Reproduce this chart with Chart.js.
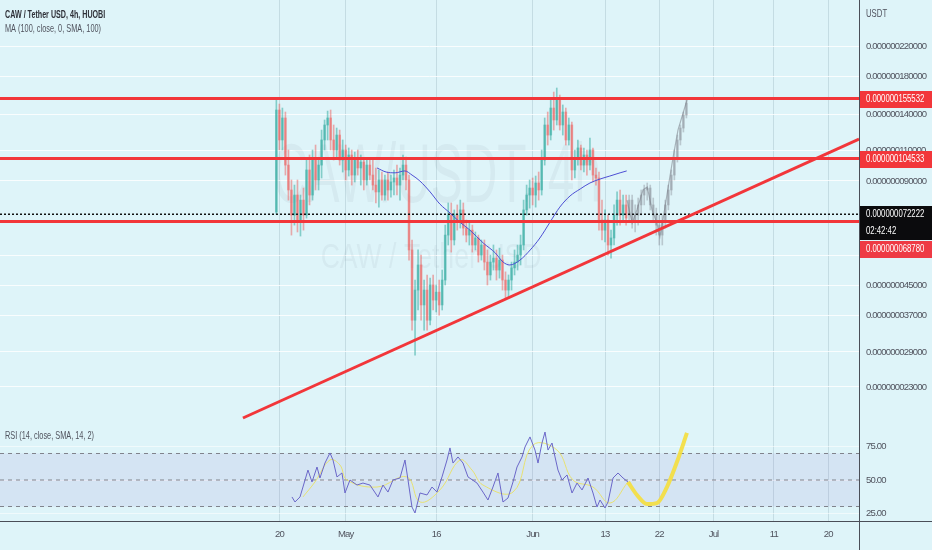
<!DOCTYPE html>
<html><head><meta charset="utf-8">
<script src="https://cdn.jsdelivr.net/npm/chart.js@4.4.0/dist/chart.umd.min.js"></script>
<style>html,body{margin:0;padding:0;background:#def4f9;overflow:hidden}canvas{display:block}</style>
</head><body>
<canvas id="c" width="932" height="550" style="width:932px;height:550px"></canvas>
<script>
// ---------- DATA (prices in units of 1e-9 USDT) ----------
const titleText = 'CAW / Tether USD, 4h, HUOBI';
const maText = 'MA (100, close, 0, SMA, 100)';
const rsiText = 'RSI (14, close, SMA, 14, 2)';
const currencyText = 'USDT';
const watermarkMain = 'CAW/USDT, 4h';
const watermarkSub = 'CAW / Tether USD';

const tickDays = [0, 11, 26, 42, 54, 63, 72, 82, 91];          // days since 20 Apr
const tickLabels = ['20', 'May', '16', 'Jun', '13', '22', 'Jul', '11', '20'];
const priceTicks = [220, 180, 140, 110, 90, 55, 45, 37, 29, 23];
const rsiTicks = [25, 50, 75];
const rsiBands = [70, 50, 30];

const levelLines = [155.532, 104.533, 68.780];
const lastPrice = 72.222;
const countdown = '02:42:42';
const trendDays = [-6.04, 96.12];
const trendValues = [18.73, 118.8];

const candleStartDay = -0.5, candleStepDays = 0.5;
const candleOpen = [73.3,144.0,118.1,136.6,100.0,84.8,71.8,82.0,68.6,79.3,
71.8,96.8,82.0,103.4,90.6,100.0,118.1,130.4,136.6,118.1,
110.5,122.0,103.4,110.5,96.8,106.9,93.6,104.8,98.1,102.0,
90.6,100.0,93.6,87.6,83.7,90.6,82.0,90.6,84.8,89.4,
91.8,87.6,93.6,100.0,90.6,57.0,35.8,43.7,51.6,39.6,
43.7,35.8,45.2,40.9,43.1,39.6,46.7,62.9,71.8,60.9,
71.8,68.6,74.3,65.9,62.9,65.0,58.9,61.7,55.1,58.9,
52.6,48.3,52.6,54.0,49.9,53.3,46.7,43.7,46.7,50.6,
52.6,55.1,58.9,74.3,82.0,85.9,82.0,88.8,84.8,103.4,
130.4,122.0,145.9,134.8,153.9,130.4,142.1,118.1,130.4,96.8,
104.8,112.0,100.0,106.9,100.0,110.5,93.6,91.8,69.5,65.0,
69.5,58.9,61.7,71.8,79.3,71.8,76.8];
const candleHigh = [153.9,149.8,145.9,142.1,110.5,90.6,87.6,90.6,82.0,85.9,
103.4,106.9,110.5,114.2,104.8,126.1,134.8,143.0,144.0,130.4,
127.8,126.1,118.1,114.2,112.0,110.5,109.0,110.5,106.9,104.8,
104.8,103.4,103.4,98.1,96.8,95.5,93.6,95.5,93.6,96.8,
100.0,98.1,106.9,105.5,93.6,60.9,46.7,57.0,55.1,46.7,
48.3,47.3,48.3,45.2,46.7,49.9,67.2,77.8,77.8,74.3,
76.8,79.3,77.8,69.5,68.6,67.2,64.2,62.9,60.9,60.9,
57.0,55.1,58.9,57.0,57.7,55.1,49.3,48.3,52.6,57.0,
58.9,62.9,79.3,87.6,90.6,91.8,93.0,95.5,110.5,136.6,
142.1,153.9,162.2,166.6,159.0,148.9,145.9,136.6,133.0,110.5,
118.1,114.2,112.0,110.5,119.6,112.0,98.1,95.5,79.3,74.3,
71.8,65.0,76.8,83.7,84.8,82.0,82.0];
const candleLow = [72.3,110.5,110.5,93.6,79.3,62.9,67.2,64.2,62.5,65.0,
70.4,76.8,79.3,84.8,84.8,91.8,110.5,118.1,110.5,103.4,
104.8,100.0,95.5,90.6,93.0,87.6,89.4,93.6,87.6,84.8,
87.6,90.6,84.8,77.8,75.7,79.3,79.3,79.3,80.9,82.0,
82.0,79.3,90.6,84.8,53.3,33.5,28.4,38.3,35.8,33.5,
33.5,34.7,38.3,37.8,37.0,38.3,45.2,58.9,56.2,58.9,
65.0,65.9,62.9,60.1,58.9,56.2,57.0,52.6,53.3,49.9,
45.2,46.7,49.9,46.7,47.3,43.7,41.4,41.4,43.7,48.3,
49.9,51.6,57.0,71.8,75.2,76.8,75.7,79.3,82.0,100.0,
114.2,118.1,126.1,130.4,126.1,122.0,114.2,114.2,90.6,91.8,
100.0,96.8,95.5,93.6,96.8,89.4,87.6,65.0,60.9,60.1,
55.1,54.0,58.9,67.2,67.2,68.6,67.2];
const candleClose = [144.0,118.1,136.6,100.0,84.8,71.8,82.0,68.6,79.3,71.8,
96.8,82.0,103.4,90.6,100.0,118.1,130.4,136.6,118.1,110.5,
122.0,103.4,110.5,96.8,106.9,93.6,104.8,98.1,102.0,90.6,
100.0,93.6,87.6,83.7,90.6,82.0,90.6,84.8,89.4,91.8,
87.6,93.6,100.0,90.6,57.0,35.8,43.7,51.6,39.6,43.7,
35.8,45.2,40.9,43.1,39.6,46.7,62.9,71.8,60.9,71.8,
68.6,74.3,65.9,62.9,65.0,58.9,61.7,55.1,58.9,52.6,
48.3,52.6,54.0,49.9,53.3,46.7,43.7,46.7,50.6,52.6,
55.1,58.9,74.3,82.0,85.9,82.0,88.8,84.8,103.4,130.4,
122.0,145.9,134.8,153.9,130.4,142.1,118.1,130.4,96.8,104.8,
112.0,100.0,106.9,100.0,110.5,93.6,91.8,69.5,65.0,69.5,
58.9,61.7,71.8,79.3,71.8,76.8,70.4];

// projected (grey "bars pattern") candles
const ghostStartDay = 58.0;
const ghostOpen  = [71.8,79.3,69.5,71.8,76.8,82.0,84.8,85.9,76.8,71.8,67.2,62.9,68.6,76.8,84.8,93.6,104.8,118.1,127.8,139.3];
const ghostHigh  = [82.0,82.0,76.8,80.4,84.8,87.6,88.8,87.6,80.4,75.2,71.8,71.8,79.3,87.6,96.8,110.5,122.0,130.4,142.1,153.9];
const ghostLow   = [68.6,65.9,64.2,67.2,71.8,76.8,79.3,74.3,68.6,62.9,58.9,58.9,65.9,74.3,82.0,90.6,102.0,114.2,124.5,136.6];
const ghostClose = [79.3,69.5,71.8,76.8,82.0,84.8,85.9,76.8,71.8,67.2,62.9,68.6,76.8,84.8,93.6,104.8,118.1,127.8,139.3,150.8];
const ghostLineDays   = [57.65,58.5,59.3,60.3,61.0,61.8,62.6,63.1,63.6,64.4,65.3,66.1,67.6];
const ghostLineValues = [79.3,68.1,74.3,84.8,86.5,74.3,68.1,62.1,69.5,84.8,105.5,126.1,153.9];

// MA(100)
const maDays   = [16.2,17.7,19.2,20.8,22.0,23.3,25.0,26.6,28.3,29.9,31.6,33.8,35.8,37.1,38.2,39.9,41.6,43.2,44.9,46.5,48.2,49.9,51.5,53.2,54.8,56.5,57.6];
const maValues = [98.1,95.5,95.0,96.2,93.6,90.0,83.7,77.3,72.8,68.6,65.0,59.7,55.9,52.6,51.6,53.3,57.0,61.7,68.6,75.7,81.5,85.4,88.8,91.2,93.0,95.0,96.2];

// RSI(14)
const rsiDays = [2.09,2.59,3.42,3.91,4.74,5.41,6.24,6.73,7.56,8.39,
8.89,9.55,10.38,10.88,11.71,12.87,13.86,15.02,16.35,17.18,
18.01,18.84,20.0,20.83,21.33,21.99,22.49,23.32,24.48,25.31,
26.14,26.97,27.8,28.29,28.79,29.62,30.45,31.28,32.77,33.76,
34.59,35.42,36.25,37.08,37.91,38.74,39.41,40.24,40.73,41.56,
42.39,42.89,43.55,44.05,44.55,45.21,45.71,46.2,46.87,47.7,
48.53,49.36,50.19,51.18,52.01,52.67,53.17,54.0,54.5,55.33,
56.16,56.99,57.81];
const rsiValues = [37.2,33.4,37.2,44.7,57.5,48.5,59.8,51.5,62.8,70.4,
65.1,52.3,55.3,40.2,50.0,46.2,47.7,46.2,37.2,46.2,
40.9,50.0,51.5,65.1,50.0,29.6,25.1,40.2,38.7,44.7,
40.9,52.3,65.1,74.2,62.8,67.4,62.8,52.3,47.7,40.9,
34.9,44.7,55.3,33.4,36.4,48.5,59.8,67.4,74.9,82.5,
72.6,62.8,77.9,86.2,72.6,77.9,67.4,57.5,50.0,53.8,
40.2,47.7,42.5,51.5,40.2,29.6,34.9,28.9,33.4,51.5,
55.3,51.5,48.5];
const rsiMaDays   = [3.91,5.9,8.39,10.05,11.21,16.19,21.16,23.32,26.63,29.95,31.94,33.76,38.74,42.06,46.04,48.69,52.01,54.83,57.81];
const rsiMaValues = [37.2,48.5,65.1,61.3,50.0,44.7,52.3,33.4,42.5,65.1,57.5,46.2,40.9,76.4,72.6,50.0,44.7,32.6,48.5];
// hand-drawn RSI projection
const projDays   = [57.81,59.3,60.97,62.6,64.27,65.93,67.59];
const projValues = [48.5,38.7,31.9,32.6,44.7,63.6,85.5];

// ---------- VIEW ----------
const X_MIN = -46.33, X_MAX = 96.12;
const Y_MIN = 18.0, Y_MAX = 298.4;
const R_MIN = 19.06, R_MAX = 92.26;

const FONT = '"Liberation Sans", Arial, sans-serif';
const HAS_LS = ('letterSpacing' in CanvasRenderingContext2D.prototype);
const BG = '#def4f9';
const GREEN = 'rgba(38,166,154,0.5)', RED = 'rgba(239,83,80,0.47)';
const GHOST = 'rgba(125,130,140,0.38)';
const LEVEL = '#f2363a';

const pts = (xs, ys) => xs.map((x, i) => ({x, y: ys[i]}));
const hline = (v) => [{x: X_MIN, y: v}, {x: X_MAX, y: v}];
const cDays = candleOpen.map((_, i) => candleStartDay + i * candleStepDays);
const gDays = ghostOpen.map((_, i) => ghostStartDay + i * candleStepDays);
const cColors = candleClose.map((c, i) => c >= candleOpen[i] ? GREEN : RED);

const lineBase = {type: 'line', pointRadius: 0, borderWidth: 1, tension: 0, fill: false};

const datasets = [
  Object.assign({}, lineBase, {yAxisID: 'yRsi', data: hline(rsiBands[0]), borderWidth: 0,
    fill: {value: rsiBands[2]}, backgroundColor: 'rgba(126,87,194,0.10)', order: 30}),
  ...rsiBands.map(b => Object.assign({}, lineBase, {yAxisID: 'yRsi', data: hline(b),
    borderColor: '#80838c', borderDash: [4, 4], order: 29})),
  {type: 'bar', yAxisID: 'y', grouped: false, barThickness: 1, order: 20,
    data: cDays.map((d, i) => ({x: d, y: [candleLow[i], candleHigh[i]]})), backgroundColor: cColors},
  {type: 'bar', yAxisID: 'y', grouped: false, barThickness: 2, minBarLength: 1, order: 19,
    data: cDays.map((d, i) => ({x: d, y: [candleOpen[i], candleClose[i]]})), backgroundColor: cColors},
  {type: 'bar', yAxisID: 'y', grouped: false, barThickness: 1, order: 18,
    data: gDays.map((d, i) => ({x: d, y: [ghostLow[i], ghostHigh[i]]})), backgroundColor: GHOST},
  {type: 'bar', yAxisID: 'y', grouped: false, barThickness: 2, minBarLength: 1, order: 17,
    data: gDays.map((d, i) => ({x: d, y: [ghostOpen[i], ghostClose[i]]})), backgroundColor: GHOST},
  Object.assign({}, lineBase, {yAxisID: 'y', data: pts(ghostLineDays, ghostLineValues),
    borderColor: 'rgba(120,125,135,0.55)', borderWidth: 1.2, order: 16}),
  Object.assign({}, lineBase, {yAxisID: 'y', data: pts(maDays, maValues), borderColor: '#4d4fd4',
    borderWidth: 1, tension: 0.4, cubicInterpolationMode: 'monotone', order: 10}),
  Object.assign({}, lineBase, {yAxisID: 'yRsi', data: pts(rsiMaDays, rsiMaValues),
    borderColor: 'rgba(235,225,90,0.85)', borderWidth: 1, tension: 0.4, order: 12}),
  Object.assign({}, lineBase, {yAxisID: 'yRsi', data: pts(rsiDays, rsiValues),
    borderColor: '#6b67c9', borderWidth: 1, order: 11}),
  Object.assign({}, lineBase, {yAxisID: 'yRsi', data: pts(projDays, projValues),
    borderColor: 'rgba(245,222,60,0.9)', borderWidth: 4, tension: 0.45, cubicInterpolationMode: 'monotone', order: 9}),
  Object.assign({}, lineBase, {yAxisID: 'y', data: hline(lastPrice), borderColor: '#111',
    borderWidth: 1.6, borderDash: [2, 2], order: 5}),
  ...levelLines.map(v => Object.assign({}, lineBase, {yAxisID: 'y', data: hline(v),
    borderColor: LEVEL, borderWidth: 3, order: 4})),
  Object.assign({}, lineBase, {yAxisID: 'y', data: pts(trendDays, trendValues),
    borderColor: LEVEL, borderWidth: 3, order: 3})
];

function fmtPrice(v) { return (v * 1e-9).toFixed(12); }

function sText(c, t, x, y, font, sx, color) {
  c.save();
  if (HAS_LS) c.letterSpacing = '0px';
  c.translate(x, y); c.scale(sx, 1);
  c.font = font; c.fillStyle = color; c.textAlign = 'left'; c.textBaseline = 'middle';
  c.fillText(t, 0, 0);
  c.restore();
}

const bgPlugin = {
  id: 'bg',
  beforeDraw(chart) {
    const c = chart.ctx;
    c.save(); c.fillStyle = BG; c.fillRect(0, 0, chart.width, chart.height); c.restore();
    if (HAS_LS) c.letterSpacing = '-0.8px';
  },
  beforeDatasetsDraw(chart) {
    const c = chart.ctx; c.save();
    if (HAS_LS) c.letterSpacing = '0px';
    c.fillStyle = 'rgba(90,110,125,0.065)';
    c.textAlign = 'center'; c.textBaseline = 'alphabetic';
    c.translate(437, 202); c.scale(0.57, 1);
    c.font = '84px "Liberation Sans", sans-serif';
    c.fillText(watermarkMain, 0, 0);
    c.restore(); c.save();
    if (HAS_LS) c.letterSpacing = '0px';
    c.fillStyle = 'rgba(90,110,125,0.065)';
    c.textAlign = 'center';
    c.translate(431, 268); c.scale(0.76, 1);
    c.font = '35px "Liberation Sans", sans-serif';
    c.fillText(watermarkSub, 0, 0);
    c.restore();
  },
  afterDraw(chart) {
    const c = chart.ctx, a = chart.chartArea, ys = chart.scales.y;
    c.save();
    if (HAS_LS) c.letterSpacing = '0px';
    c.strokeStyle = '#4a4e58'; c.lineWidth = 1;
    c.beginPath(); c.moveTo(a.right, Math.round(a.bottom) + 0.5); c.lineTo(chart.width, Math.round(a.bottom) + 0.5); c.stroke();
    c.beginPath(); c.moveTo(Math.round(a.right) + 0.5, a.bottom); c.lineTo(Math.round(a.right) + 0.5, chart.height); c.stroke();
    // legends
    sText(c, titleText, 5, 15, 'bold 10.5px ' + FONT, 0.68, '#2e3038');
    sText(c, maText, 5, 29, '10.5px ' + FONT, 0.7, '#50535e');
    sText(c, rsiText, 5, 436, '10.5px ' + FONT, 0.7, '#50535e');
    sText(c, currencyText, 866, 14, '10.5px ' + FONT, 0.74, '#50535e');
    // price labels
    const bx = Math.round(a.right) + 1, bw = chart.width - bx;
    const box = (top, h, fill, lines) => {
      c.fillStyle = fill; c.fillRect(bx, top, bw, h);
      lines.forEach((t, i) => sText(c, t, 866, top + 8.5 + i * 17, '10.5px ' + FONT, 0.74, '#fff'));
    };
    box(Math.round(ys.getPixelForValue(levelLines[0])) - 7, 17, LEVEL, [fmtPrice(levelLines[0])]);
    box(Math.round(ys.getPixelForValue(levelLines[1])) - 7, 17, LEVEL, [fmtPrice(levelLines[1])]);
    const lt = Math.round(ys.getPixelForValue(lastPrice)) - 8;
    box(lt, 34, '#0b0b0d', [fmtPrice(lastPrice), countdown]);
    box(lt + 35, 17, '#ee3a44', [fmtPrice(levelLines[2])]);
    c.restore();
  }
};

const tickFont = {family: FONT, size: HAS_LS ? 9.5 : 8};
new Chart(document.getElementById('c'), {
  type: 'line',
  data: {datasets},
  options: {
    responsive: false, animation: false, events: [],
    layout: {padding: 0},
    plugins: {legend: {display: false}, tooltip: {enabled: false}},
    scales: {
      x: {
        type: 'linear', min: X_MIN, max: X_MAX, bounds: 'data', offset: false,
        afterBuildTicks: s => { s.ticks = tickDays.map(v => ({value: v})); },
        afterFit: s => { s.height = 29; s.paddingLeft = 0; s.paddingRight = 0; },
        ticks: {autoSkip: false, maxRotation: 0, padding: 8, color: '#50535e', font: tickFont,
          callback: v => tickLabels[tickDays.indexOf(v)] || ''},
        grid: {offset: false, drawTicks: false, color: 'rgba(150,175,185,0.35)'},
        border: {color: '#4a4e58'}
      },
      y: {
        type: 'logarithmic', position: 'right', stack: 'panes', stackWeight: 424,
        min: Y_MIN, max: Y_MAX, bounds: 'data',
        afterBuildTicks: s => { s.ticks = priceTicks.map(v => ({value: v})); },
        afterFit: s => { s.width = 73; s.paddingTop = 0; s.paddingBottom = 0; },
        ticks: {autoSkip: false, padding: 7, color: '#50535e', font: tickFont, callback: v => fmtPrice(v)},
        grid: {drawTicks: false, color: 'rgba(255,255,255,0.8)'},
        border: {color: '#4a4e58'}
      },
      yRsi: {
        type: 'linear', position: 'right', stack: 'panes', stackWeight: 97,
        min: R_MIN, max: R_MAX, bounds: 'data',
        afterBuildTicks: s => { s.ticks = rsiTicks.map(v => ({value: v})); },
        afterFit: s => { s.width = 73; s.paddingTop = 0; s.paddingBottom = 0; },
        ticks: {autoSkip: false, padding: 7, color: '#50535e', font: tickFont, callback: v => v.toFixed(2)},
        grid: {drawTicks: false, color: 'rgba(255,255,255,0.55)'},
        border: {color: '#4a4e58'}
      }
    }
  },
  plugins: [bgPlugin]
});
</script>
</body></html>
